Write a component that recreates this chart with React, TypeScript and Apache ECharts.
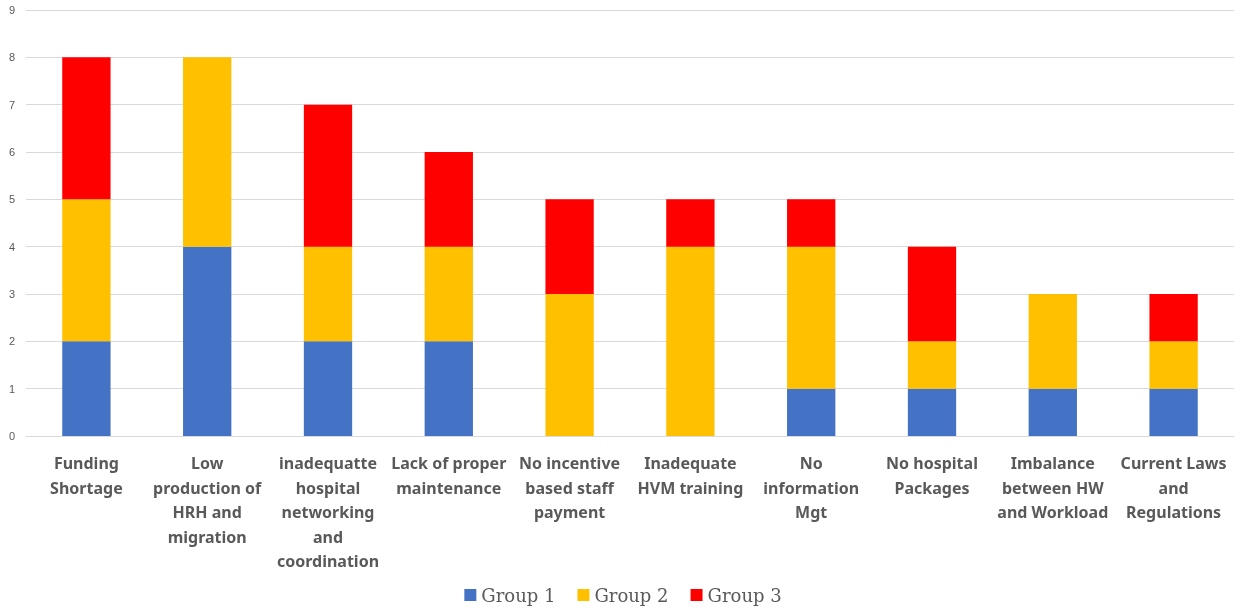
import React, { useEffect, useRef } from "react";
import * as echarts from "echarts";

const categories = [
  "Funding\nShortage",
  "Low\nproduction of\nHRH and\nmigration",
  "inadequatte\nhospital\nnetworking\nand\ncoordination",
  "Lack of proper\nmaintenance",
  "No incentive\nbased staff\npayment",
  "Inadequate\nHVM training",
  "No\ninformation\nMgt",
  "No hospital\nPackages",
  "Imbalance\nbetween HW\nand Workload",
  "Current Laws\nand\nRegulations",
];
const group1 = [2, 4, 2, 2, 0, 0, 1, 1, 1, 1];
const group2 = [3, 4, 2, 2, 3, 4, 3, 1, 2, 1];
const group3 = [3, 0, 3, 2, 2, 1, 1, 2, 0, 1];
const seriesNames = ["Group 1", "Group 2", "Group 3"];
const colors = ["#4472C4", "#FFC000", "#FF0000"];

export default function App() {
  const ref = useRef<HTMLDivElement>(null);
  useEffect(() => {
    const chart = echarts.init(ref.current!, null, { renderer: "svg" });
    const data = [group1, group2, group3];
    chart.setOption({
      animation: false,
      color: colors,
      grid: { left: 26, right: 12, top: 10, bottom: 177, containLabel: false },
      legend: {
        bottom: 4,
        left: "center",
        itemWidth: 12,
        itemHeight: 12,
        itemGap: 22,
        icon: "rect",
        textStyle: { fontFamily: "DejaVu Serif", fontSize: 18, color: "#595959" },
        data: seriesNames,
      },
      xAxis: {
        type: "category",
        data: categories,
        axisLine: { lineStyle: { color: "#d9d9d9" } },
        axisTick: { show: false },
        axisLabel: {
          interval: 0,
          margin: 15,
          fontFamily: "Noto Sans",
          fontWeight: "bold",
          fontSize: 16,
          lineHeight: 24.5,
          color: "#595959",
        },
      },
      yAxis: {
        type: "value",
        min: 0,
        max: 9,
        interval: 1,
        axisLine: { show: false },
        axisTick: { show: false },
        splitLine: { lineStyle: { color: "#d9d9d9" } },
        axisLabel: { margin: 11, fontSize: 11, color: "#595959", fontFamily: "Liberation Sans" },
      },
      series: seriesNames.map((n, i) => ({
        name: n,
        type: "bar",
        stack: "total",
        barWidth: "40%",
        data: data[i],
      })),
    });
    return () => chart.dispose();
  }, []);
  return <div ref={ref} style={{ position: "fixed", left: 0, top: 0, width: 1246, height: 613 }} />;
}
